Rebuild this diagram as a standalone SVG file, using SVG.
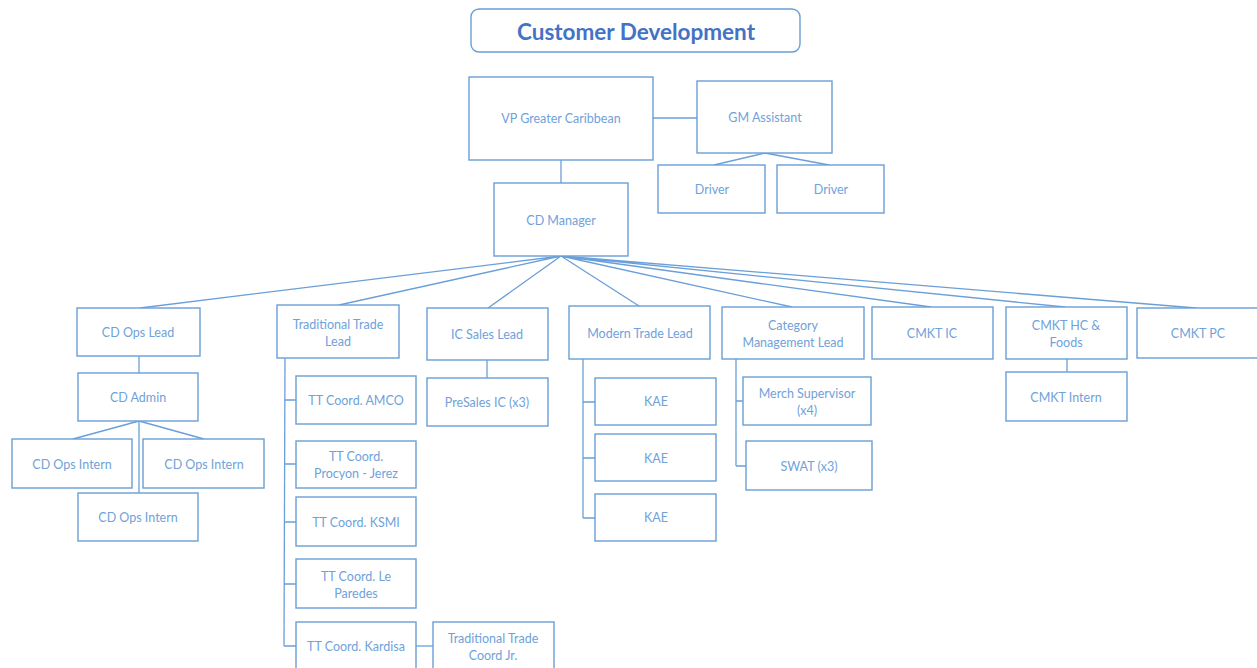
<svg xmlns="http://www.w3.org/2000/svg" width="1257" height="668" viewBox="0 0 1257 668">
  <style>
    .box { fill: #ffffff; stroke: #6a9fd8; stroke-width: 1.4; }
    .title { fill: #ffffff; stroke: #6a9fd8; stroke-width: 1.4; }
    .lbl { font-family: Lato, "Liberation Sans", sans-serif; font-size: 12.5px; fill: #6fa2da; text-anchor: middle; dominant-baseline: central; }
    .ttl { font-family: Lato, "Liberation Sans", sans-serif; font-size: 22.5px; font-weight: bold; fill: #4472c4; text-anchor: middle; dominant-baseline: central; }
    .conn { fill: none; stroke: #6a9fd8; stroke-width: 1.3; }
  </style>
  <rect width="1257" height="668" fill="#ffffff"/>

  <!-- connectors -->
  <g id="connectors" class="conn">
    <path d="M653,118 L697,118"/>
    <path d="M765,153 L714,165 M765,153 L829,165"/>
    <path d="M561,160 L561,183"/>
    <path d="M561,256 L140,308 M561,256 L339,305 M561,256 L488,308 M561,256 L639,306 M561,256 L792,307 M561,256 L931,307 M561,256 L1065,307 M561,256 L1196,308"/>
    <path d="M139,356 L139,373"/>
    <path d="M139,421 L73,439 M139,421 L204,439 M139,421 L139,493"/>
    <path d="M285,358 L284,646"/>
    <path d="M285,400 L296,400 M285,464 L296,464 M284,522 L296,522 M284,584 L296,584 M284,646 L296,646"/>
    <path d="M416,646 L433,646"/>
    <path d="M487,360 L487,378"/>
    <path d="M583,359 L583,518"/>
    <path d="M583,402 L595,402 M583,458 L595,458 M583,518 L595,518"/>
    <path d="M736,359 L736,466"/>
    <path d="M736,401 L743,401 M736,466 L746,466"/>
    <path d="M1067,359 L1067,372"/>
  </g>

  <g id="title">
    <rect class="title" x="471" y="9" width="329" height="43" rx="8"/>
    <text class="ttl" x="636" y="31">Customer Development</text>
  </g>

  <g id="vp">
    <rect class="box" x="469" y="77" width="184" height="83"/>
    <text class="lbl" x="561" y="118">VP Greater Caribbean</text>
  </g>
  <g id="gm-assistant">
    <rect class="box" x="697" y="81" width="135" height="72"/>
    <text class="lbl" x="765" y="117">GM Assistant</text>
  </g>
  <g id="driver-1">
    <rect class="box" x="658" y="165" width="107" height="48"/>
    <text class="lbl" x="712" y="189">Driver</text>
  </g>
  <g id="driver-2">
    <rect class="box" x="777" y="165" width="107" height="48"/>
    <text class="lbl" x="831" y="189">Driver</text>
  </g>
  <g id="cd-manager">
    <rect class="box" x="494" y="183" width="134" height="73"/>
    <text class="lbl" x="561" y="220">CD Manager</text>
  </g>

  <g id="cd-ops-lead">
    <rect class="box" x="77" y="308" width="123" height="48"/>
    <text class="lbl" x="138" y="332">CD Ops Lead</text>
  </g>
  <g id="cd-admin">
    <rect class="box" x="78" y="373" width="120" height="48"/>
    <text class="lbl" x="138" y="397">CD Admin</text>
  </g>
  <g id="cd-ops-intern-1">
    <rect class="box" x="12" y="439" width="120" height="49"/>
    <text class="lbl" x="72" y="464">CD Ops Intern</text>
  </g>
  <g id="cd-ops-intern-2">
    <rect class="box" x="143" y="439" width="121" height="49"/>
    <text class="lbl" x="204" y="464">CD Ops Intern</text>
  </g>
  <g id="cd-ops-intern-3">
    <rect class="box" x="78" y="493" width="120" height="48"/>
    <text class="lbl" x="138" y="517">CD Ops Intern</text>
  </g>

  <g id="traditional-trade-lead">
    <rect class="box" x="277" y="305" width="122" height="53"/>
    <text class="lbl" x="338" y="324">Traditional Trade</text>
    <text class="lbl" x="338" y="341">Lead</text>
  </g>
  <g id="tt-amco">
    <rect class="box" x="296" y="376" width="120" height="48"/>
    <text class="lbl" x="356" y="400">TT Coord. AMCO</text>
  </g>
  <g id="tt-procyon">
    <rect class="box" x="296" y="441" width="120" height="47"/>
    <text class="lbl" x="356" y="456">TT Coord.</text>
    <text class="lbl" x="356" y="473">Procyon - Jerez</text>
  </g>
  <g id="tt-ksmi">
    <rect class="box" x="296" y="497" width="120" height="49"/>
    <text class="lbl" x="356" y="522">TT Coord. KSMI</text>
  </g>
  <g id="tt-le-paredes">
    <rect class="box" x="296" y="559" width="120" height="49"/>
    <text class="lbl" x="356" y="576">TT Coord. Le</text>
    <text class="lbl" x="356" y="593">Paredes</text>
  </g>
  <g id="tt-kardisa">
    <rect class="box" x="296" y="622" width="120" height="60"/>
    <text class="lbl" x="356" y="646">TT Coord. Kardisa</text>
  </g>
  <g id="tt-coord-jr">
    <rect class="box" x="433" y="622" width="121" height="60"/>
    <text class="lbl" x="493" y="638">Traditional Trade</text>
    <text class="lbl" x="493" y="655">Coord Jr.</text>
  </g>

  <g id="ic-sales-lead">
    <rect class="box" x="427" y="308" width="121" height="52"/>
    <text class="lbl" x="487" y="334">IC Sales Lead</text>
  </g>
  <g id="presales-ic">
    <rect class="box" x="427" y="378" width="121" height="48"/>
    <text class="lbl" x="487" y="402">PreSales IC (x3)</text>
  </g>

  <g id="modern-trade-lead">
    <rect class="box" x="569" y="306" width="141" height="53"/>
    <text class="lbl" x="640" y="333">Modern Trade Lead</text>
  </g>
  <g id="kae-1">
    <rect class="box" x="595" y="378" width="121" height="47"/>
    <text class="lbl" x="656" y="401">KAE</text>
  </g>
  <g id="kae-2">
    <rect class="box" x="595" y="434" width="121" height="47"/>
    <text class="lbl" x="656" y="458">KAE</text>
  </g>
  <g id="kae-3">
    <rect class="box" x="595" y="494" width="121" height="47"/>
    <text class="lbl" x="656" y="517">KAE</text>
  </g>

  <g id="category-management-lead">
    <rect class="box" x="722" y="307" width="142" height="52"/>
    <text class="lbl" x="793" y="325">Category</text>
    <text class="lbl" x="793" y="342">Management Lead</text>
  </g>
  <g id="merch-supervisor">
    <rect class="box" x="743" y="377" width="128" height="48"/>
    <text class="lbl" x="807" y="393">Merch Supervisor</text>
    <text class="lbl" x="807" y="410">(x4)</text>
  </g>
  <g id="swat">
    <rect class="box" x="746" y="441" width="126" height="49"/>
    <text class="lbl" x="809" y="466">SWAT (x3)</text>
  </g>

  <g id="cmkt-ic">
    <rect class="box" x="872" y="307" width="121" height="52"/>
    <text class="lbl" x="932" y="333">CMKT IC</text>
  </g>
  <g id="cmkt-hc-foods">
    <rect class="box" x="1006" y="307" width="121" height="52"/>
    <text class="lbl" x="1066" y="325">CMKT HC &amp;</text>
    <text class="lbl" x="1066" y="342">Foods</text>
  </g>
  <g id="cmkt-intern">
    <rect class="box" x="1006" y="372" width="121" height="49"/>
    <text class="lbl" x="1066" y="397">CMKT Intern</text>
  </g>
  <g id="cmkt-pc">
    <rect class="box" x="1137" y="308" width="130" height="50"/>
    <text class="lbl" x="1198" y="333">CMKT PC</text>
  </g>
</svg>
